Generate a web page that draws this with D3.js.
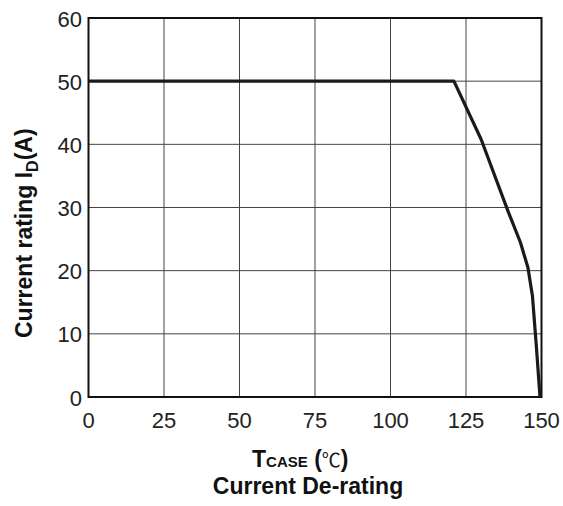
<!DOCTYPE html>
<html>
<head>
<meta charset="utf-8">
<script src="https://cdn.jsdelivr.net/npm/d3@7"></script>
<style>
  body { margin: 0; background: #fff; }
  text { font-family: "Liberation Sans", Arial, sans-serif; }
</style>
</head>
<body>
<script>
const xTicks = [0, 25, 50, 75, 100, 125, 150]
const yTicks = [0, 10, 20, 30, 40, 50, 60]
// case temperature (C) vs current rating (A)
const tCase = [0, 121, 130, 139, 143, 145.5, 147, 148.3, 149.5]
const current = [50, 50, 40.8, 29.3, 24.5, 20.5, 16, 8, 0]

const width = 563
const height = 506
const margin = { top: 18, right: 21.5, bottom: 109, left: 88.5 }

const svg = d3.select('body')
  .append('svg')
  .attr('width', width)
  .attr('height', height)

const xScale = d3.scaleLinear()
  .domain([0, 150])
  .range([margin.left, width - margin.right])

const yScale = d3.scaleLinear()
  .domain([0, 60])
  .range([height - margin.bottom, margin.top])

// grid
svg.append('g')
  .selectAll('line')
  .data(xTicks)
  .enter()
  .append('line')
  .attr('x1', d => xScale(d))
  .attr('x2', d => xScale(d))
  .attr('y1', yScale(0))
  .attr('y2', yScale(60))
  .attr('stroke', '#444')
  .attr('stroke-width', 1)

svg.append('g')
  .selectAll('line')
  .data(yTicks)
  .enter()
  .append('line')
  .attr('x1', xScale(0))
  .attr('x2', xScale(150))
  .attr('y1', d => yScale(d))
  .attr('y2', d => yScale(d))
  .attr('stroke', '#444')
  .attr('stroke-width', 1)

// frame
svg.append('rect')
  .attr('x', xScale(0))
  .attr('y', yScale(60))
  .attr('width', xScale(150) - xScale(0))
  .attr('height', yScale(0) - yScale(60))
  .attr('fill', 'none')
  .attr('stroke', '#111')
  .attr('stroke-width', 2)

// tick labels
svg.append('g')
  .selectAll('text')
  .data(xTicks)
  .enter()
  .append('text')
  .attr('x', d => xScale(d))
  .attr('y', yScale(0) + 31)
  .attr('text-anchor', 'middle')
  .attr('font-size', 22)
  .attr('fill', '#222')
  .text(d => d)

svg.append('g')
  .selectAll('text')
  .data(yTicks)
  .enter()
  .append('text')
  .attr('x', xScale(0) - 6.5)
  .attr('y', d => yScale(d) + 8.5)
  .attr('text-anchor', 'end')
  .attr('font-size', 22)
  .attr('fill', '#222')
  .text(d => d)

// curve
const line = d3.line()
  .x((d, i) => xScale(tCase[i]))
  .y(d => yScale(d))

svg.append('path')
  .datum(current)
  .attr('d', line)
  .attr('fill', 'none')
  .attr('stroke', '#1a1a1a')
  .attr('stroke-width', 3.2)
  .attr('stroke-linejoin', 'round')

// axis titles
const xTitle = svg.append('text')
  .attr('x', 252)
  .attr('y', 467)
  .attr('font-weight', 'bold')
  .attr('fill', '#111')
xTitle.append('tspan').attr('font-size', 23).text('T')
xTitle.append('tspan').attr('font-size', 15).text('CASE')
xTitle.append('tspan').attr('font-size', 23).text(' (')
xTitle.append('tspan')
  .attr('font-size', 19)
  .attr('font-weight', 'normal')
  .attr('font-family', '"Noto Sans CJK SC", sans-serif')
  .text('\u2103')
xTitle.append('tspan').attr('font-size', 23).text(')')

svg.append('text')
  .attr('x', 308)
  .attr('y', 494)
  .attr('text-anchor', 'middle')
  .attr('font-size', 23)
  .attr('font-weight', 'bold')
  .attr('fill', '#111')
  .text('Current De-rating')

const yTitle = svg.append('text')
  .attr('transform', 'translate(32, 338) rotate(-90)')
  .attr('font-size', 23)
  .attr('font-weight', 'bold')
  .attr('fill', '#111')
yTitle.append('tspan').text('Current rating I')
yTitle.append('tspan').attr('font-size', 16).attr('dy', 6).text('D')
yTitle.append('tspan').attr('dy', -6).text('(A)')
</script>
</body>
</html>
